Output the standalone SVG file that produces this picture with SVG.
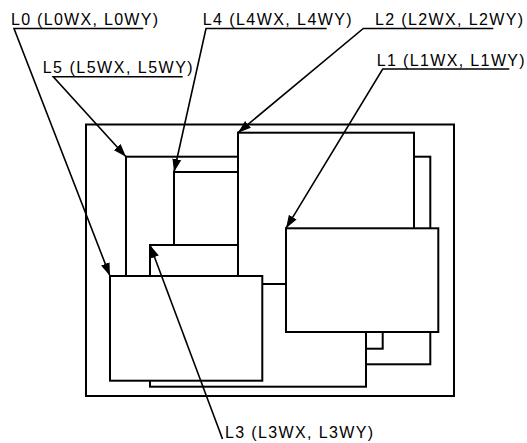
<svg xmlns="http://www.w3.org/2000/svg" width="527" height="443" viewBox="0 0 527 443">
<defs>
<style>
.box{fill:#fff;stroke:#000;stroke-width:2}
.lead{fill:none;stroke:#000;stroke-width:1.6}
.lbl{font-family:"Liberation Sans",Arial,sans-serif;font-size:16px;fill:#000}
</style>
<marker id="ah" markerUnits="userSpaceOnUse" markerWidth="14" markerHeight="10" viewBox="0 0 14 10" refX="13" refY="5" orient="auto">
<path d="M0,0.5 L13,5 L0,9.5 z" fill="#000"/>
</marker>
</defs>
<rect width="527" height="443" fill="#fff"/>
<g id="frame"><rect class="box" x="86" y="124.5" width="368" height="271.5"/></g>
<g id="L5"><rect class="box" x="126" y="156.7" width="304.3" height="207.6"/></g>
<g id="L4"><rect class="box" x="174" y="172" width="208.7" height="176.7"/></g>
<g id="L3"><rect class="box" x="150" y="245" width="216" height="141.7"/></g>
<g id="L2"><rect class="box" x="238" y="132.7" width="176" height="151.3"/></g>
<g id="L1"><rect class="box" x="286" y="228.3" width="152.3" height="103.7"/></g>
<g id="L0"><rect class="box" x="110" y="276" width="152.3" height="104.7"/></g>
<g id="labels">
<text class="lbl" x="11" y="25" textLength="147" lengthAdjust="spacing">L0 (L0WX, L0WY)</text>
<text class="lbl" x="42.7" y="73" textLength="150" lengthAdjust="spacing">L5 (L5WX, L5WY)</text>
<text class="lbl" x="202.7" y="25" textLength="149" lengthAdjust="spacing">L4 (L4WX, L4WY)</text>
<text class="lbl" x="375" y="25" textLength="148" lengthAdjust="spacing">L2 (L2WX, L2WY)</text>
<text class="lbl" x="376.7" y="65.5" textLength="148" lengthAdjust="spacing">L1 (L1WX, L1WY)</text>
<text class="lbl" x="225" y="438" textLength="148" lengthAdjust="spacing">L3 (L3WX, L3WY)</text>
</g>
<g id="connectors">
<polyline class="lead" points="143.3,28.5 14,28.5 110,276" marker-end="url(#ah)"/>
<polyline class="lead" points="182.7,76.7 53.3,76.7 126,156.7" marker-end="url(#ah)"/>
<polyline class="lead" points="326.7,28.5 206,28.5 174,172" marker-end="url(#ah)"/>
<polyline class="lead" points="493.3,28.5 363.3,28.5 238,132.7" marker-end="url(#ah)"/>
<polyline class="lead" points="509.3,69 382.7,69 286,228.3" marker-end="url(#ah)"/>
<polyline class="lead" points="222.5,439 150,245" marker-end="url(#ah)"/>
</g>
</svg>
